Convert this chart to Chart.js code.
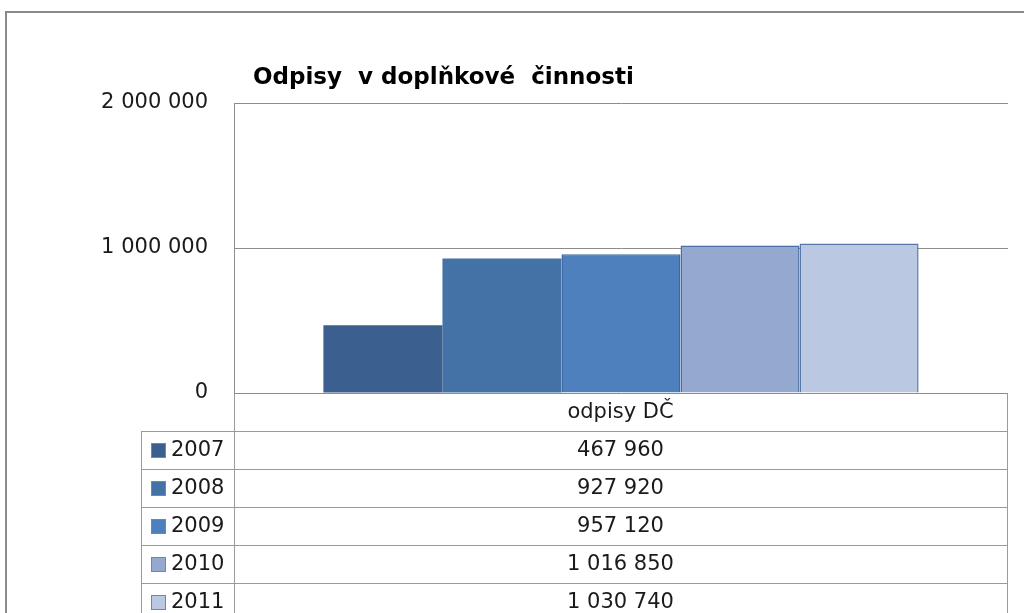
<!DOCTYPE html>
<html>
<head>
<meta charset="utf-8">
<script src="https://cdn.jsdelivr.net/npm/chart.js@4/dist/chart.umd.min.js"></script>
<style>
  html, body { margin: 0; padding: 0; background: #fff; }
  canvas { display: block; }
</style>
</head>
<body>
<canvas id="barChart" width="1024" height="613"></canvas>
<script>
// -------------------------
// Chart Data
// -------------------------
const categories = ['odpisy DČ'];
const years = ['2007', '2008', '2009', '2010', '2011'];
const values = [467960, 927920, 957120, 1016850, 1030740];
const colors = ['#3b5f8e', '#4472a7', '#4e80bd', '#95a9d0', '#bac8e1'];
const borders = ['#3b5f8e', '#4472a7', '#3f6aa0', '#4a6fa5', '#5577aa'];
const chartTitle = 'Odpisy  v doplňkové  činnosti';

const FONT = '"DejaVu Sans", sans-serif';

function fmt(v) {
    return String(v).replace(/\B(?=(\d{3})+(?!\d))/g, ' ');
}

// -------------------------
// Frame, title and data table
// -------------------------
const tablePlugin = {
    id: 'dataTable',
    beforeDraw(chart) {
        const c = chart.ctx;
        c.save();
        c.fillStyle = '#fff';
        c.fillRect(0, 0, chart.width, chart.height);
        // outer frame
        c.strokeStyle = '#8a8a8a';
        c.lineWidth = 2;
        c.beginPath();
        c.moveTo(6, chart.height);
        c.lineTo(6, 12);
        c.lineTo(chart.width, 12);
        c.stroke();
        c.restore();
    },
    afterDraw(chart) {
        const c = chart.ctx;
        const area = chart.chartArea;
        const left = area.left, right = area.right - 1;
        const top = area.bottom;
        const headH = 38, rowH = 38;
        const keyLeft = 141;
        const mid = (left + right) / 2;

        c.save();
        // title
        c.fillStyle = '#000';
        c.font = 'bold 23px ' + FONT;
        c.textAlign = 'left';
        c.textBaseline = 'middle';
        c.fillText(chartTitle, 253, 78);

        // grid of table
        c.strokeStyle = '#9a9a9a';
        c.lineWidth = 1;
        c.beginPath();
        for (let i = 0; i <= years.length; i++) {
            const y = Math.round(top + headH + i * rowH) + 0.5;
            c.moveTo(keyLeft, y);
            c.lineTo(right, y);
        }
        c.moveTo(keyLeft + 0.5, top + headH);
        c.lineTo(keyLeft + 0.5, chart.height);
        c.moveTo(left + 0.5, top);
        c.lineTo(left + 0.5, chart.height);
        c.moveTo(right + 0.5, top);
        c.lineTo(right + 0.5, chart.height);
        c.stroke();

        // texts
        c.font = '21px ' + FONT;
        c.fillStyle = '#1a1a1a';
        c.textAlign = 'center';
        c.fillText(categories[0], mid, top + headH / 2 + 1);
        chart.data.datasets.forEach((ds, i) => {
            const cy = top + headH + i * rowH + rowH / 2 + 1;
            c.textAlign = 'center';
            c.fillStyle = '#1a1a1a';
            c.fillText(fmt(ds.data[0]), mid, cy);
            // legend key
            c.fillStyle = ds.backgroundColor;
            c.fillRect(151, cy - 8, 15, 15);
            c.strokeStyle = '#6f86ad';
            c.strokeRect(151.5, cy - 7.5, 14, 14);
            c.fillStyle = '#1a1a1a';
            c.textAlign = 'left';
            c.fillText(ds.label, 171, cy);
        });
        c.restore();
    }
};

// -------------------------
// Chart Setup
// -------------------------
const ctx = document.getElementById('barChart').getContext('2d');

new Chart(ctx, {
    type: 'bar',
    data: {
        labels: categories,
        datasets: years.map((y, i) => ({
            label: y,
            data: [values[i]],
            backgroundColor: colors[i],
            borderColor: borders[i],
            borderWidth: i < 2 ? 0 : 1.5,
            barPercentage: 1,
            categoryPercentage: 0.769
        }))
    },
    options: {
        responsive: false,
        animation: false,
        layout: {
            padding: { left: 0, right: 16, top: 103, bottom: 220 }
        },
        plugins: {
            legend: { display: false },
            title: { display: false },
            tooltip: { enabled: false }
        },
        scales: {
            x: { display: false },
            y: {
                min: 0,
                max: 2000000,
                afterFit: s => { s.width = 234; },
                grid: {
                    color: '#8c8c8c',
                    drawTicks: false
                },
                border: {
                    display: true,
                    color: '#8c8c8c'
                },
                ticks: {
                    stepSize: 1000000,
                    padding: 26,
                    color: '#1a1a1a',
                    font: { family: FONT, size: 21 },
                    callback: v => fmt(v)
                }
            }
        }
    },
    plugins: [tablePlugin]
});
</script>
</body>
</html>
